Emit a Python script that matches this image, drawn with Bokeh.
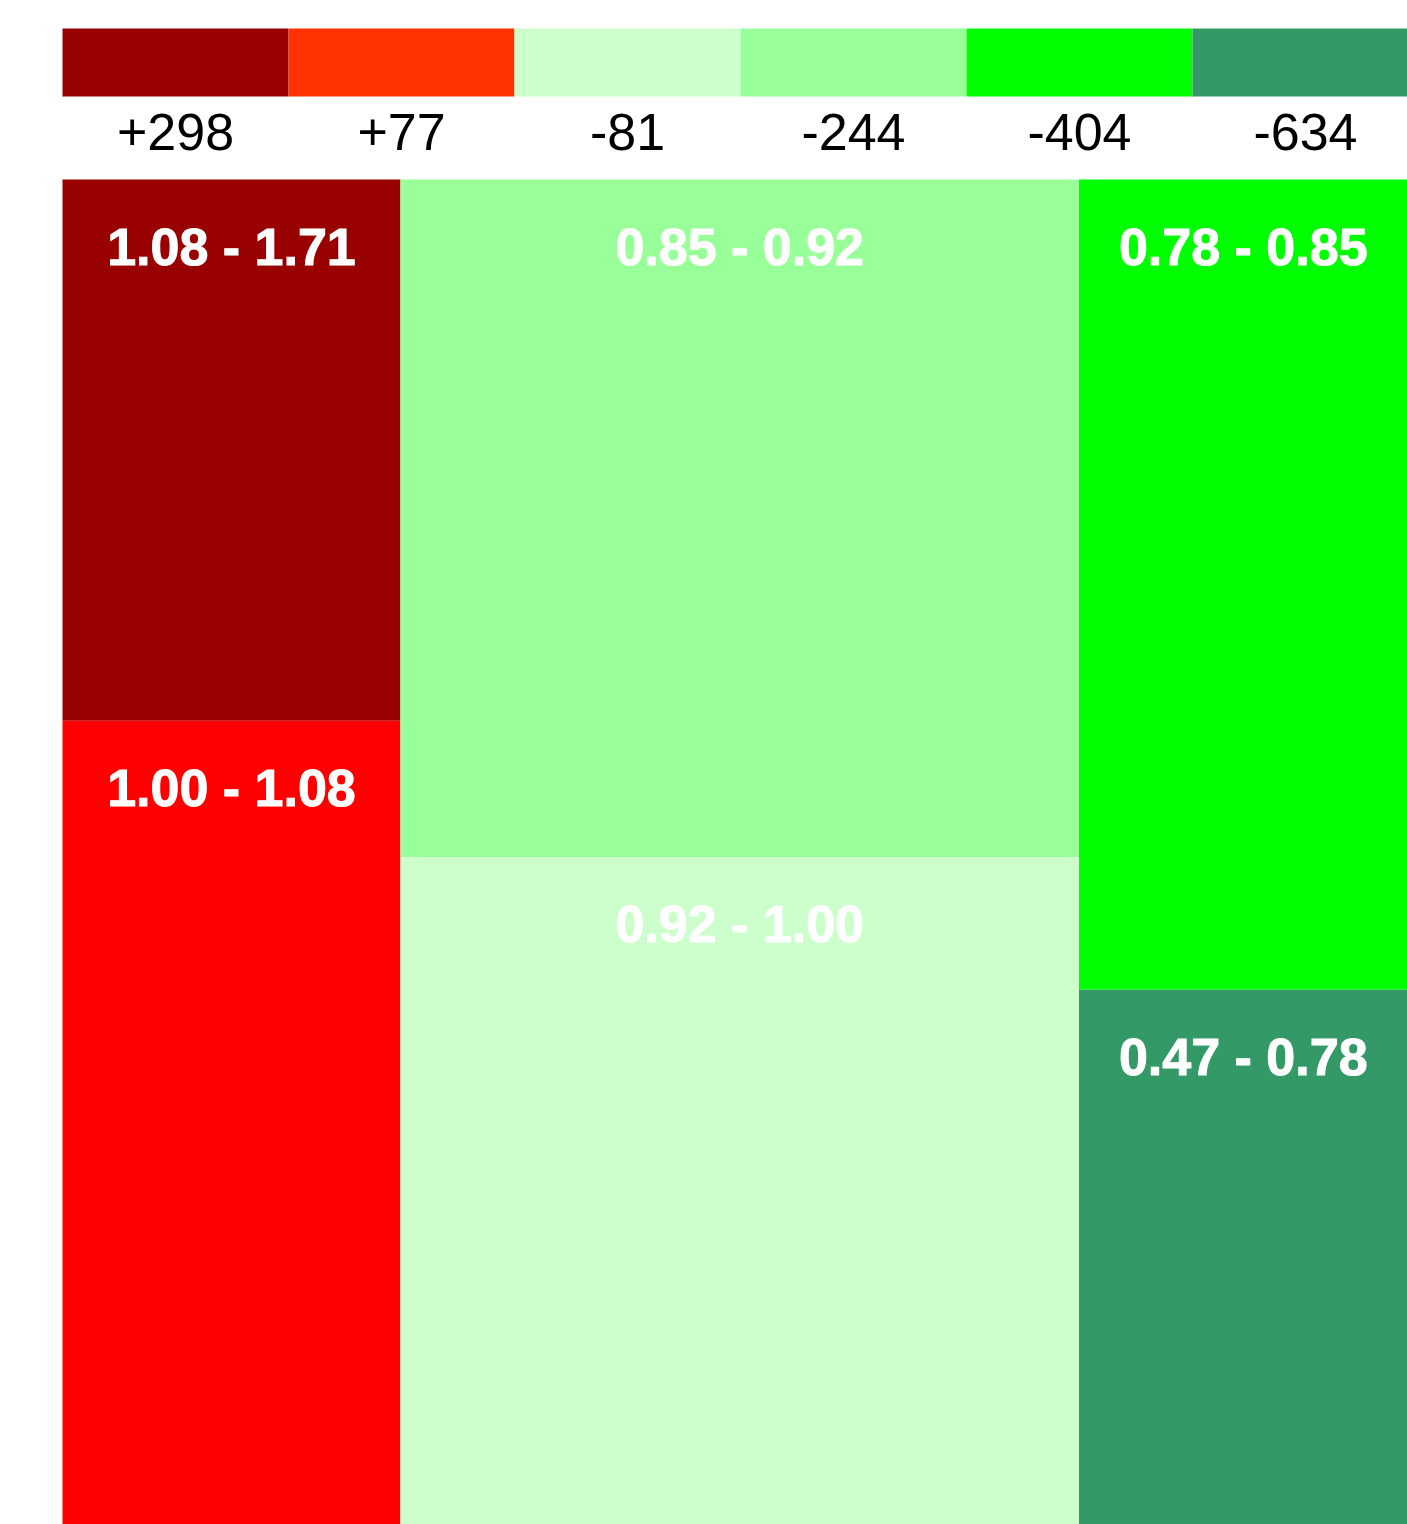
from bokeh.plotting import figure
from bokeh.models import Range1d, ColumnDataSource
from bokeh.embed import file_html
from bokeh.resources import INLINE
from bokeh.core.properties import value

# ---- data ----
legend_labels = ["+298", "+77", "-81", "-244", "-404", "-634"]
legend_colors = ["#990000", "#FF3300", "#CCFFCC", "#99FF99", "#00FF00", "#339966"]

range_labels = ["1.08 - 1.71", "1.00 - 1.08", "0.85 - 0.92", "0.92 - 1.00", "0.78 - 0.85", "0.47 - 0.78"]
column_ids = [0, 0, 1, 1, 2, 2]
shares = [10.1, 15.0, 25.4, 25.0, 14.7, 9.7]
tile_colors = ["#990000", "#FF0000", "#99FF99", "#CCFFCC", "#00FF00", "#339966"]

# ---- layout (pixel-like coordinates, y downwards) ----
W, H = 1407, 1524
area_left, area_top, area_size = 62, 179, 1345
total = sum(shares)
ncol = max(column_ids) + 1
col_tot = [sum(s for s, c in zip(shares, column_ids) if c == k) for k in range(ncol)]

left, right, top, bottom = [], [], [], []
x0 = area_left
for k in range(ncol):
    w = area_size * col_tot[k] / total
    y0 = area_top
    for s, c in zip(shares, column_ids):
        if c != k:
            continue
        h = area_size * s / col_tot[k]
        left.append(x0); right.append(x0 + w)
        top.append(y0); bottom.append(y0 + h)
        y0 += h
    x0 += w

tiles = ColumnDataSource(dict(left=left, right=right, top=top, bottom=bottom,
                              color=tile_colors, label=range_labels,
                              lx=[(l + r) / 2 for l, r in zip(left, right)],
                              ly=[t + 67 for t in top]))

n = len(legend_labels)
seg = 226.0
leg = ColumnDataSource(dict(
    left=[area_left + i * seg for i in range(n)],
    right=[area_left + (i + 1) * seg for i in range(n)],
    top=[28] * n, bottom=[96] * n,
    color=legend_colors, label=legend_labels,
    lx=[area_left + (i + 0.5) * seg for i in range(n)],
    ly=[131] * n))

p = figure(width=W, height=H, x_range=Range1d(0, W), y_range=Range1d(H, 0),
           output_backend="svg", toolbar_location=None, min_border=0,
           background_fill_color="white", border_fill_color="white")
p.axis.visible = False
p.grid.visible = False
p.outline_line_color = None

p.quad(left="left", right="right", top="top", bottom="bottom", source=leg,
       fill_color="color", line_color=None)
p.text(x="lx", y="ly", text="label", source=leg, text_align="center",
       text_baseline="middle", text_font=value("Liberation Sans"),
       text_font_size="52px", text_color="black")

p.quad(left="left", right="right", top="top", bottom="bottom", source=tiles,
       fill_color="color", line_color=None)
p.text(x="lx", y="ly", text="label", source=tiles, text_align="center",
       text_baseline="middle", text_font=value("Liberation Sans"),
       text_font_style="bold", text_font_size="52px", text_color="white",
       text_outline_color="white")

open("out.html", "w").write(file_html(p, INLINE))
